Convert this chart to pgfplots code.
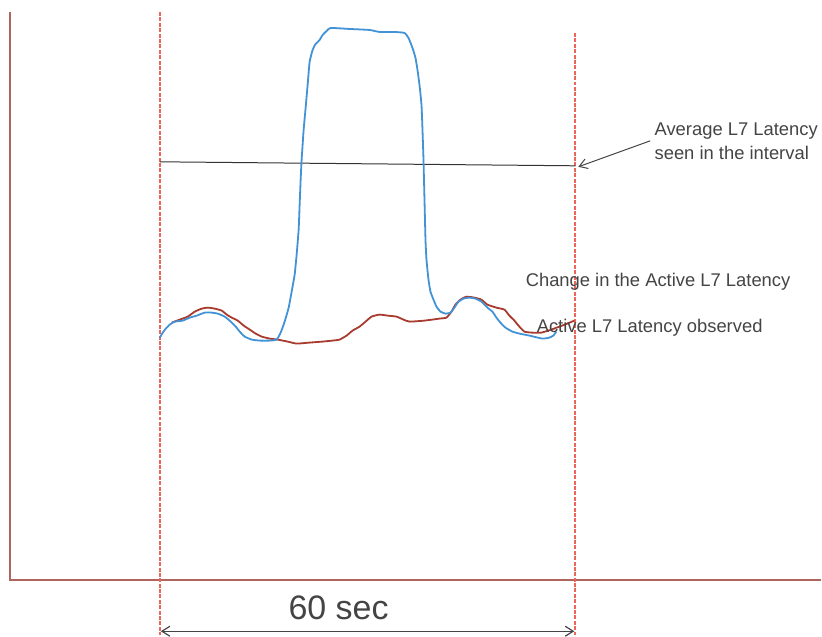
\documentclass[border=0pt]{standalone}
\usepackage{fontspec}
\setmainfont{Liberation Sans}
\usepackage{pgfplots}
\pgfplotsset{compat=1.18}
\usetikzlibrary{arrows.meta}
\definecolor{cblue}{RGB}{66,146,214}
\definecolor{cred}{RGB}{168,58,46}
\definecolor{caxis}{RGB}{176,100,94}
\definecolor{cdash}{RGB}{236,100,90}
\definecolor{ctext}{RGB}{68,68,68}
\begin{document}
\begin{tikzpicture}
\begin{axis}[
  scale only axis, width=411pt, height=318.5pt,
  xmin=0, xmax=822, ymin=0, ymax=637, y dir=reverse,
  hide axis, clip=false,
]
\path (axis cs:0,0) rectangle (axis cs:822,637);
% axes
\addplot[caxis, line width=1pt] coordinates {(10,12) (10,581) (822,581)};
% dashed verticals
\addplot[cdash, line width=0.8pt, dash pattern=on 2pt off 0.7pt] coordinates {(160,12) (160,636)};
\addplot[cdash, line width=0.8pt, dash pattern=on 2pt off 0.7pt] coordinates {(575.6,33) (575.6,636)};
% average line
\addplot[black!80, line width=0.5pt] coordinates {(160,162) (576,166)};
% red curve
\addplot[cred, line width=0.9pt, smooth, tension=0.3] coordinates {
(172,323) (180,320) (188,317) (195,312) (202,309) (208,308) (215,309) (222,311) (227,315) (232,318) (238,321) (244,326) (250,330) (256,334) (262,337) (270,339) (278,340) (288,342) (297,344) (310,343) (323,342) (333,341) (340,340) (347,336) (353,331) (360,327) (366,322) (372,317) (380,315) (388,316) (397,317) (404,320) (410,322) (425,321) (440,319) (447,318) (452,312) (456,305) (461,300) (467,297) (475,298) (482,300) (488,305) (497,308) (505,310) (510,316) (515,321) (520,327) (525,332) (532,333) (542,333) (552,330) (560,327) (568,324) (575,321)};
% blue curve
\addplot[cblue, line width=0.9pt, smooth, tension=0.3] coordinates {
(160,338) (163,333) (166,329) (170,325) (175,322) (183,321) (190,318) (197,316) (205,313) (212,313) (218,314) (225,317) (231,322) (236,327) (240,332) (245,337) (252,340) (260,341) (270,341) (277,340) (281,333) (285,322) (289,308) (292,292) (295,275) (297,255) (299,230) (300,205) (301,180) (302,160) (304,130) (306,108) (308,85) (310,62) (313,50) (316,44) (320,40) (323,35) (327,31) (331,28) (350,29) (370,30) (380,32) (395,32) (405,33) (409,38) (413,48) (416,58) (418,70) (420,85) (422,105) (423,130) (424,160) (425,200) (426,240) (427,260) (429,280) (431,292) (434,300) (437,307) (441,312) (446,314) (451,313) (455,308) (459,302) (464,299) (470,298) (476,299) (482,302) (488,308) (493,312) (497,318) (501,323) (506,328) (513,332) (520,334) (530,336) (543,339) (550,338) (554,336) (557,332)};
% annotation arrow
\addplot[ctext, line width=0.5pt, -{Straight Barb[length=4pt,width=5pt]}] coordinates {(651,141) (579,167)};
% 60 sec double arrow
\addplot[ctext, line width=0.6pt, {Straight Barb[length=4pt,width=5pt]}-{Straight Barb[length=4pt,width=5pt]}] coordinates {(161,632) (575,632)};
% texts
\node[anchor=west, align=left, text=ctext, font=\fontsize{9.2}{12}\selectfont, inner sep=0pt] at (axis cs:655,141) {Average L7 Latency\\seen in the interval};
\node[anchor=west, text=ctext, font=\fontsize{9.2}{12}\selectfont, inner sep=0pt] at (axis cs:526,282) {Change in the Active L7 Latency};
\node[anchor=west, text=ctext, font=\fontsize{9.2}{12}\selectfont, inner sep=0pt] at (axis cs:537,328) {Active L7 Latency observed};
\node[text=ctext, font=\fontsize{17}{20}\selectfont, inner sep=0pt] at (axis cs:339,609) {60 sec};
\end{axis}
\end{tikzpicture}
\end{document}
